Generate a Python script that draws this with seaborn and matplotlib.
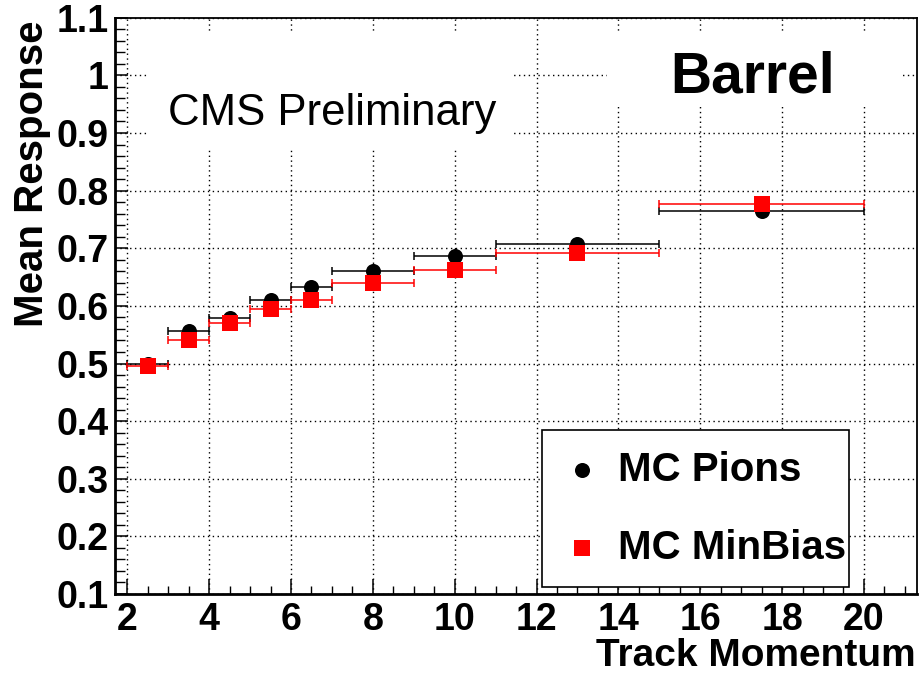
import matplotlib
matplotlib.use("Agg")
import matplotlib.pyplot as plt
from matplotlib.patches import Rectangle
from matplotlib.ticker import MultipleLocator
import numpy as np
import pandas as pd
import seaborn as sns

# Momentum bins (GeV) and mean calorimeter response per bin
bin_edges = [2, 3, 4, 5, 6, 7, 9, 11, 15, 20]
pions_response = [0.499, 0.557, 0.579, 0.610, 0.632, 0.660, 0.686, 0.708, 0.765]
minbias_response = [0.495, 0.541, 0.570, 0.594, 0.610, 0.639, 0.663, 0.692, 0.776]
series_labels = ["MC Pions", "MC MinBias"]
y_ticks = [0.1, 0.2, 0.3, 0.4, 0.5, 0.6, 0.7, 0.8, 0.9, 1.0, 1.1]
y_tick_labels = ["0.1", "0.2", "0.3", "0.4", "0.5", "0.6", "0.7", "0.8", "0.9", "1", "1.1"]
x_ticks = [2, 4, 6, 8, 10, 12, 14, 16, 18, 20]

edges = np.array(bin_edges, dtype=float)
centers = 0.5 * (edges[:-1] + edges[1:])
half_widths = 0.5 * (edges[1:] - edges[:-1])

df = pd.DataFrame({
    "momentum": np.concatenate([centers, centers]),
    "response": pions_response + minbias_response,
    "sample": [series_labels[0]] * len(centers) + [series_labels[1]] * len(centers),
})

sns.set_style("ticks")
plt.rcParams["font.family"] = ["Liberation Sans", "DejaVu Sans"]
for key in ["text.color", "axes.labelcolor", "xtick.color", "ytick.color",
            "axes.edgecolor"]:
    plt.rcParams[key] = "black"

fig = plt.figure(figsize=(9.21, 6.82), dpi=100)
ax = fig.add_axes([0.1254, 0.129, 0.8699, 0.845])

styles = [("black", "o", 117), ("red", "s", 132)]
for i, (label, (color, marker, size)) in enumerate(zip(series_labels, styles)):
    sub = df[df["sample"] == label]
    ax.errorbar(sub["momentum"], sub["response"], xerr=half_widths,
                fmt="none", ecolor=color, elinewidth=1.1, capsize=3.2,
                capthick=1.1, zorder=3 + 2 * i)
    sns.scatterplot(data=sub, x="momentum", y="response", color=color,
                    marker=marker, s=size, linewidth=0, label=label,
                    ax=ax, zorder=4 + 2 * i, legend=False)

ax.set_xlim(1.71, 21.29)
ax.set_ylim(0.1, 1.1)

ax.set_yticks(y_ticks)
ax.set_yticklabels(y_tick_labels)
ax.yaxis.set_minor_locator(MultipleLocator(0.02))
ax.set_xticks(x_ticks)
ax.xaxis.set_minor_locator(MultipleLocator(0.5))

ax.tick_params(axis="y", which="major", direction="in", length=9, width=1.1,
               labelsize=27, pad=5, left=True, right=False)
ax.tick_params(axis="y", which="minor", direction="in", length=7.5, width=1.0,
               left=True, right=False)
ax.tick_params(axis="x", which="major", direction="in", length=11, width=1.1,
               labelsize=27, pad=6, bottom=True, top=False)
ax.tick_params(axis="x", which="minor", direction="in", length=5.5, width=1.0,
               bottom=True, top=False)
for lab in ax.get_yticklabels() + ax.get_xticklabels():
    lab.set_fontweight("bold")

ax.grid(True, which="major", color="black", linestyle=(0, (1, 2.5)), linewidth=1.0)
ax.set_axisbelow(True)

for side in ["left", "bottom"]:
    ax.spines[side].set_linewidth(2.0)
for side in ["top", "right"]:
    ax.spines[side].set_linewidth(1.3)

ax.set_ylabel("Mean Response", fontsize=29, fontweight="bold", loc="top")
ax.yaxis.set_label_coords(-0.080, 0.995)
ax.set_xlabel("Track Momentum", fontsize=28, fontweight="bold", loc="right")
ax.xaxis.set_label_coords(0.999, -0.077)

# White panels behind the annotation texts
ax.add_patch(Rectangle((0.0406, 0.7704), 0.4555, 0.2046, transform=ax.transAxes,
                       facecolor="white", edgecolor="none", zorder=1))
ax.add_patch(Rectangle((0.6135, 0.8485), 0.3657, 0.1265, transform=ax.transAxes,
                       facecolor="white", edgecolor="none", zorder=1))
ax.text(0.2709, 0.8138, "CMS Preliminary", transform=ax.transAxes,
        fontsize=31.5, ha="center", va="baseline", zorder=2)
ax.text(0.7957, 0.8711, "Barrel", transform=ax.transAxes,
        fontsize=41, fontweight="bold", ha="center", va="baseline", zorder=2)

leg = ax.legend(loc="lower left", bbox_to_anchor=(0.5323, 0.0121, 0.3832, 0.27),
                mode="expand", borderaxespad=0, frameon=True, fancybox=False,
                edgecolor="black", framealpha=1, prop={"weight": "bold", "size": 29},
                borderpad=0.5, handlelength=1.0, handletextpad=0.4,
                labelspacing=1.0)
leg.get_frame().set_linewidth(1.2)
leg.set_zorder(10)

fig.savefig("out.png", dpi=100)
